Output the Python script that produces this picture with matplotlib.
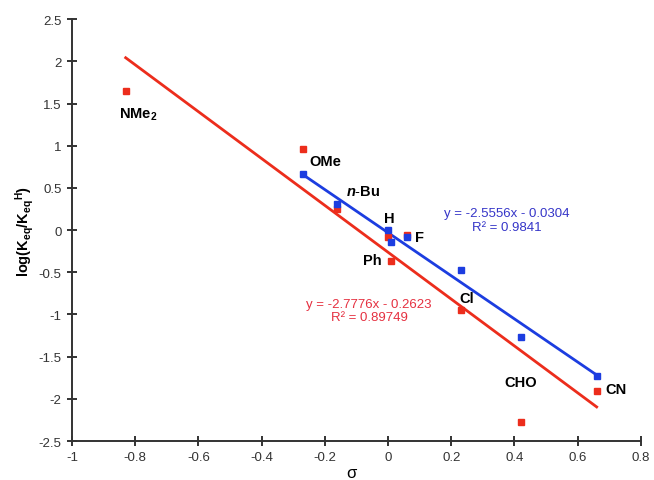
import matplotlib
matplotlib.use("Agg")
import matplotlib.pyplot as plt
import numpy as np

plt.rcParams['font.family'] = ['Liberation Sans', 'DejaVu Sans']
plt.rcParams['mathtext.fontset'] = 'custom'
plt.rcParams['mathtext.rm'] = 'Liberation Sans'
plt.rcParams['mathtext.it'] = 'Liberation Sans:italic'
plt.rcParams['mathtext.bf'] = 'Liberation Sans:bold'
plt.rcParams['mathtext.bfit'] = 'Liberation Sans:bold:italic'

# substituent, sigma, log(Keq/KeqH) for the two series
red_sigma = [-0.83, -0.27, -0.16, 0.0, 0.06, 0.01, 0.23, 0.42, 0.66]
red_logk = [1.65, 0.96, 0.25, -0.08, -0.06, -0.37, -0.95, -2.27, -1.91]
blue_sigma = [-0.27, -0.16, 0.0, 0.01, 0.06, 0.23, 0.42, 0.66]
blue_logk = [0.66, 0.31, 0.0, -0.14, -0.08, -0.47, -1.27, -1.73]

# trendline fits as printed on the chart
red_fit = (-2.7776, -0.2623, 0.89749)
blue_fit = (-2.5556, -0.0304, 0.9841)

labels = ["$\\mathbf{NMe_2}$", "OMe", "$\\mathbfit{n}\\mathbf{\\text{-}Bu}$", "H", "F", "Ph", "Cl", "CHO", "CN"]
label_xy = [(-0.79, 1.38), (-0.20, 0.82), (-0.08, 0.46), (0.005, 0.14),
            (0.10, -0.08), (-0.05, -0.35), (0.25, -0.80), (0.42, -1.80), (0.72, -1.88)]

RED = '#ec2d1c'
BLUE = '#1c3de0'

fig = plt.figure(figsize=(6.54, 4.81), dpi=100)
ax = fig.add_axes([0.110, 0.081, 0.870, 0.877])

# trend lines over the extent of each series
for xs, (m, b, _), c in [(red_sigma, red_fit, RED), (blue_sigma, blue_fit, BLUE)]:
    xx = np.array([min(xs), max(xs)])
    ax.plot(xx, m * xx + b, color=c, lw=2, zorder=2)

ax.plot(red_sigma, red_logk, 's', color=RED, ms=4, zorder=3)
ax.plot(blue_sigma, blue_logk, 's', color=BLUE, ms=4, zorder=3)

for t, (x, y) in zip(labels, label_xy):
    ax.text(x, y, t, fontsize=10.5, fontweight='bold', ha='center', va='center')

ax.text(0.375, 0.12, "y = -2.5556x - 0.0304\nR² = 0.9841", color='#3535c8',
        fontsize=9.5, ha='center', va='center', linespacing=1.15)
ax.text(-0.06, -0.95, "y = -2.7776x - 0.2623\nR² = 0.89749", color='#e53040',
        fontsize=9.5, ha='center', va='center', linespacing=1.15)

ax.set_xlim(-1, 0.8)
ax.set_ylim(-2.5, 2.5)
ax.set_xticks(np.arange(-1, 0.81, 0.2))
ax.set_xticklabels(['-1', '-0.8', '-0.6', '-0.4', '-0.2', '0', '0.2', '0.4', '0.6', '0.8'])
ax.set_yticks(np.arange(-2.5, 2.51, 0.5))
ax.set_yticklabels(['-2.5', '-2', '-1.5', '-1', '-0.5', '0', '0.5', '1', '1.5', '2', '2.5'])
ax.spines['top'].set_visible(False)
ax.spines['right'].set_visible(False)
for s in ['left', 'bottom']:
    ax.spines[s].set_linewidth(1.4)
    ax.spines[s].set_color('#333333')
ax.tick_params(direction='inout', length=7, width=1.4, color='#333333',
               labelsize=9.5, labelcolor='#333333', pad=4)

ax.set_ylabel("$\\mathbf{log(K_{eq}/K_{eq}{}^{H})}$", fontsize=10.5, labelpad=2)
fig.text(0.538, 0.0, "σ", fontsize=12, ha='center', va='bottom')

fig.savefig("out.png", dpi=100)
